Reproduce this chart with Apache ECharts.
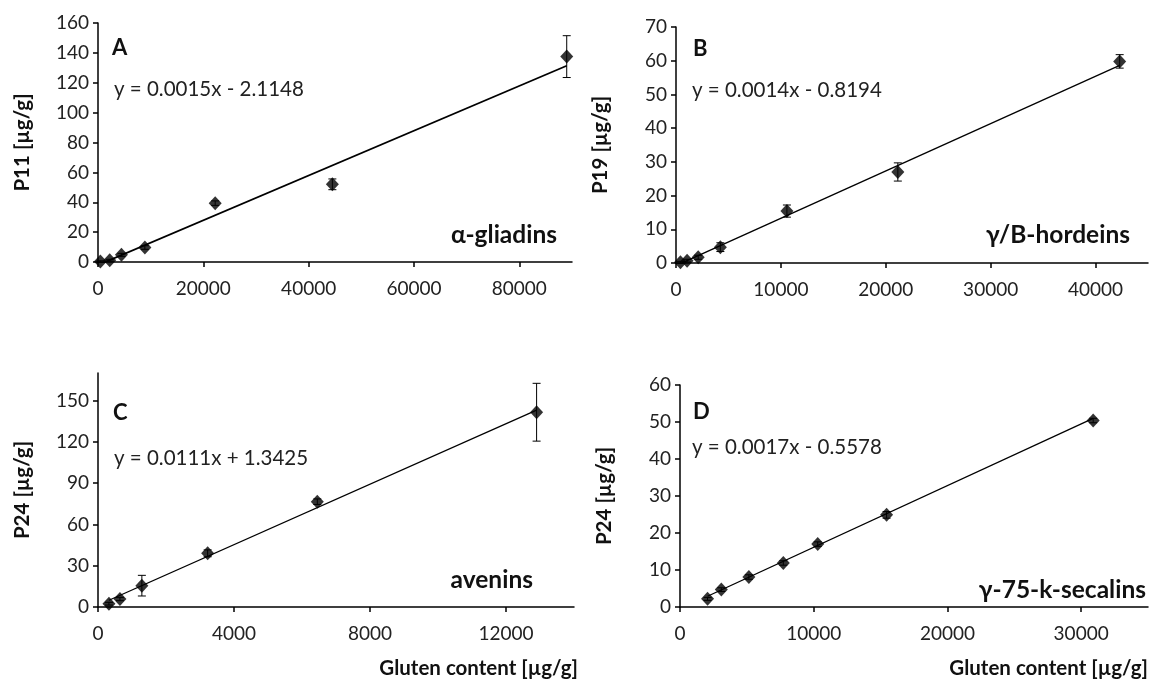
<!DOCTYPE html>
<html>
<head>
<meta charset="utf-8">
<script src="https://cdn.jsdelivr.net/npm/echarts@6/dist/echarts.min.js"></script>
<style>
  html, body { margin: 0; padding: 0; background: #fff; }
  #chart { width: 1150px; height: 681px; }
</style>
</head>
<body>
<div id="chart"></div>
<script>
  // panel A - alpha-gliadins
  const xA = [450, 2225, 4450, 8900, 22250, 44500, 89000];
  const yA = [0.3, 1.2, 4.8, 9.7, 39.4, 52.0, 137.5];
  const errA = [0.5, 0.6, 1.0, 1.2, 1.5, 3.6, 14];
  const trendA = [[450, -1.4], [89000, 131.4]];
  const ticksAx = [0, 20000, 40000, 60000, 80000];
  const ticksAy = [0, 20, 40, 60, 80, 100, 120, 140, 160];

  // panel B - gamma/B-hordeins
  const xB = [423, 1058, 2115, 4230, 10575, 21150, 42300];
  const yB = [0.2, 0.7, 1.7, 4.7, 15.4, 27.0, 59.8];
  const errB = [0.3, 0.4, 0.6, 1.3, 1.8, 2.7, 2.0];
  const trendB = [[423, -0.2], [42300, 58.6]];
  const ticksBx = [0, 10000, 20000, 30000, 40000];
  const ticksBy = [0, 10, 20, 30, 40, 50, 60, 70];

  // panel C - avenins
  const xC = [322, 645, 1290, 3225, 6450, 12900];
  const yC = [2.4, 5.8, 15.5, 39.0, 76.5, 141.5];
  const errC = [1.0, 1.2, 7.5, 2.5, 2.0, 21];
  const trendC = [[322, 4.9], [12900, 143]];
  const ticksCx = [0, 4000, 8000, 12000];
  const ticksCy = [0, 30, 60, 90, 120, 150];

  // panel D - gamma-75-k-secalins
  const xD = [2060, 3090, 5150, 7725, 10300, 15450, 30900];
  const yD = [2.2, 4.7, 8.1, 11.9, 17.0, 24.9, 50.4];
  const errD = [0.4, 0.5, 0.6, 0.6, 0.6, 0.9, 0.6];
  const trendD = [[2060, 2.9], [30900, 51.0]];
  const ticksDx = [0, 10000, 20000, 30000];
  const ticksDy = [0, 10, 20, 30, 40, 50, 60];

  const FONT = 'Lato, "Open Sans", sans-serif';

  const chart = echarts.init(document.getElementById('chart'));

  function xAxisOf(idx, max, ticks) {
    return {
      type: 'value', gridIndex: idx, min: 0, max: max,
      splitLine: { show: false },
      axisLine: { lineStyle: { color: '#000', width: 1.5 } },
      axisTick: { show: true, inside: false, length: 5, lineStyle: { color: '#000', width: 1.5 }, customValues: ticks },
      axisLabel: {
        color: '#222', fontSize: 19, fontFamily: FONT, margin: 17, customValues: ticks,
        formatter: (v) => String(v),
      },
    };
  }
  function yAxisOf(idx, max, ticks, name) {
    return {
      type: 'value', gridIndex: idx, min: 0, max: max,
      name: name, nameLocation: 'middle', nameGap: 65,
      nameTextStyle: { color: '#111', fontSize: 20.5, fontWeight: 'bold', fontFamily: FONT },
      splitLine: { show: false },
      axisLine: { show: true, lineStyle: { color: '#000', width: 1.5 } },
      axisTick: { show: true, inside: false, length: 5, lineStyle: { color: '#000', width: 1.5 }, customValues: ticks },
      axisLabel: { color: '#222', fontSize: 19, fontFamily: FONT, margin: 9, customValues: ticks },
    };
  }

  function errRender(params, api) {
    const x = api.value(0);
    const lo = api.coord([x, api.value(1)]);
    const hi = api.coord([x, api.value(2)]);
    const w = 4;
    const style = { stroke: '#000', lineWidth: 1 };
    return {
      type: 'group',
      children: [
        { type: 'line', shape: { x1: lo[0], y1: lo[1], x2: hi[0], y2: hi[1] }, style: style },
        { type: 'line', shape: { x1: hi[0] - w, y1: hi[1], x2: hi[0] + w, y2: hi[1] }, style: style },
        { type: 'line', shape: { x1: lo[0] - w, y1: lo[1], x2: lo[0] + w, y2: lo[1] }, style: style },
      ],
    };
  }

  function panelSeries(idx, xs, ys, errs, trend) {
    return [
      {
        type: 'line', xAxisIndex: idx, yAxisIndex: idx, data: trend,
        showSymbol: false, silent: true, z: 1,
        lineStyle: { color: '#000', width: idx === 0 ? 1.8 : 1.3 },
      },
      {
        type: 'custom', xAxisIndex: idx, yAxisIndex: idx, z: 2,
        data: xs.map((x, i) => [x, ys[i] - errs[i], ys[i] + errs[i]]),
        renderItem: errRender,
      },
      {
        type: 'scatter', xAxisIndex: idx, yAxisIndex: idx, z: 3,
        data: xs.map((x, i) => [x, ys[i]]),
        symbol: 'diamond', symbolSize: [13, 14],
        itemStyle: { color: '#000' },
      },
    ];
  }

  function label(x, y, text, kind, align) {
    const sizes = { panel: 22, eq: 20.5, name: 24.5, axis: 20.5 };
    return {
      type: 'text', x: x, y: y,
      style: {
        text: text, fontSize: sizes[kind], fontFamily: FONT,
        fontWeight: kind === 'eq' ? 'normal' : 'bold',
        fill: kind === 'eq' ? '#222' : '#111',
        align: align || 'left', verticalAlign: 'middle',
      },
    };
  }

  const option = {
    animation: false,
    grid: [
      { left: 98, top: 23, width: 474, height: 239 },
      { left: 676, top: 27, width: 472, height: 236 },
      { left: 98, top: 373, width: 476, height: 234 },
      { left: 680, top: 385, width: 468, height: 222 },
    ],
    xAxis: [
      xAxisOf(0, 90000, ticksAx),
      xAxisOf(1, 45000, ticksBx),
      xAxisOf(2, 14000, ticksCx),
      xAxisOf(3, 35000, ticksDx),
    ],
    yAxis: [
      yAxisOf(0, 160, ticksAy, 'P11 [µg/g]'),
      yAxisOf(1, 70, ticksBy, 'P19 [µg/g]'),
      yAxisOf(2, 170, ticksCy, 'P24 [µg/g]'),
      yAxisOf(3, 60, ticksDy, 'P24 [µg/g]'),
    ],
    series: [].concat(
      panelSeries(0, xA, yA, errA, trendA),
      panelSeries(1, xB, yB, errB, trendB),
      panelSeries(2, xC, yC, errC, trendC),
      panelSeries(3, xD, yD, errD, trendD)
    ),
    graphic: [
      label(112, 48, 'A', 'panel'),
      label(114, 89, 'y = 0.0015x - 2.1148', 'eq'),
      label(557, 235, 'α-gliadins', 'name', 'right'),

      label(693, 49, 'B', 'panel'),
      label(692, 90, 'y = 0.0014x - 0.8194', 'eq'),
      label(1130, 235, 'γ/B-hordeins', 'name', 'right'),

      label(113, 413, 'C', 'panel'),
      label(114, 458, 'y = 0.0111x + 1.3425', 'eq'),
      label(533, 580, 'avenins', 'name', 'right'),
      label(578, 668, 'Gluten content [µg/g]', 'axis', 'right'),

      label(693, 412, 'D', 'panel'),
      label(692, 447, 'y = 0.0017x - 0.5578', 'eq'),
      label(1146, 590, 'γ-75-k-secalins', 'name', 'right'),
      label(1148, 668, 'Gluten content [µg/g]', 'axis', 'right'),
    ],
  };

  chart.setOption(option);
</script>
</body>
</html>
